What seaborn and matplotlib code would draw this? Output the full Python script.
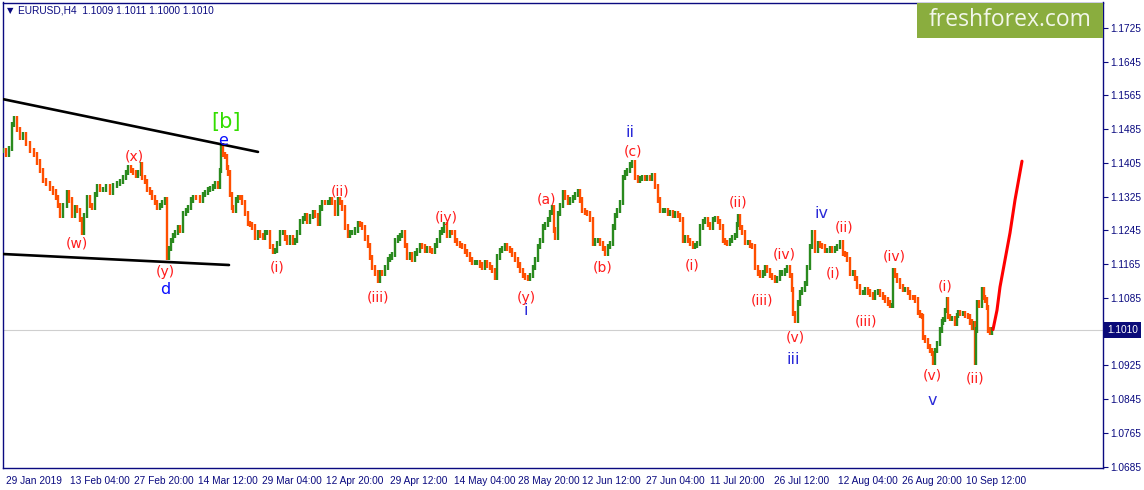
import numpy as np
import pandas as pd
import matplotlib
matplotlib.use("Agg")
import matplotlib.pyplot as plt
import matplotlib.transforms as mtransforms
from matplotlib.patches import Rectangle
import seaborn as sns

# ---------------- data ----------------
bar_index = [0, 3, 6, 9, 11, 14, 17, 20, 23, 27, 31, 34, 37, 40, 43, 47, 50, 53, 55, 57,
             60, 64, 66, 69, 72, 74, 77, 79, 81, 84, 87, 89, 92, 94, 97, 100, 103, 107, 110, 114,
             117, 120, 123, 125, 128, 130, 133, 135, 138, 139, 142, 144, 147, 149, 152, 154, 157, 159, 162, 164,
             166, 168, 170, 172, 175, 177, 180, 183, 185, 188, 190, 193, 197, 200, 202, 205, 207, 210, 212, 215,
             217, 218, 220, 222, 224, 225, 227, 229, 230, 233, 235, 237, 239, 242, 245, 247, 249, 252, 255, 257,
             260, 262, 264, 267, 270, 272, 274, 277, 280, 282, 284, 287, 290, 292, 294, 297, 300, 302, 304, 307,
             310, 312, 315, 317, 319, 322, 325, 327, 329, 332, 335, 337, 339, 342, 345, 347, 349, 352, 355, 357,
             359, 362, 365, 367, 369, 372, 375, 377, 379, 382, 385, 387, 389, 392, 395, 397, 399, 402, 404, 407,
             409, 412, 414, 417, 419, 422, 424, 427, 429, 432, 434, 437, 439, 441, 444, 447, 449, 452, 454, 457,
             459, 462, 464, 467, 469, 472, 474, 477, 479, 482, 484, 487, 489, 492, 494, 497, 499, 502, 504, 507,
             509, 512, 515, 517, 520, 522, 525, 527, 530, 532, 535, 537, 540, 542, 545, 547, 549, 551, 552, 555,
             557, 560, 562, 565, 567, 570, 572, 575, 577, 579, 582, 584, 587, 590, 592, 595, 597, 600, 602, 605,
             607, 610, 612, 614, 617, 620, 622, 624, 627, 629, 632, 635, 637, 639, 642, 644, 647, 649, 652, 655,
             657, 660, 662, 665, 667, 670, 672, 675, 677, 680, 682, 685, 687, 690, 692, 694, 697, 700, 702, 705,
             707, 710, 712, 715, 717, 720, 722, 724, 727, 729, 732, 734, 735, 737, 739, 742, 745, 747, 749, 752,
             755, 757, 760, 762, 764, 767, 769, 772, 774, 777, 779, 782, 784, 787, 789, 790, 792, 795, 797, 799,
             802, 804, 807, 809, 812, 815, 817, 819, 822, 824, 827, 829, 832, 834, 837, 840, 842, 844, 847, 850,
             852, 854, 857, 860, 862, 865, 867, 870, 872, 875, 877, 880, 882, 885, 887, 889, 890, 892, 894, 897,
             900, 902, 905, 907, 910, 912, 915, 917, 919, 920, 922, 925, 927, 929, 930, 932, 934, 937, 939, 940,
             942, 944, 945, 947, 949, 952, 954, 955, 957, 960, 962, 965, 967, 969, 971, 972, 973, 974, 976, 979,
             981, 982, 984, 985, 987, 989]
close = [1.1435, 1.1424, 1.1440, 1.1495, 1.1511, 1.1483, 1.1466, 1.1471, 1.1452, 1.1435, 1.1424, 1.1407, 1.1388, 1.1364, 1.1357, 1.1345, 1.1336, 1.1324, 1.1305, 1.1281,
         1.1305, 1.1334, 1.1317, 1.1281, 1.1300, 1.1293, 1.1270, 1.1241, 1.1281, 1.1322, 1.1305, 1.1300, 1.1329, 1.1348, 1.1341, 1.1341, 1.1348, 1.1334, 1.1352, 1.1357,
         1.1360, 1.1371, 1.1383, 1.1395, 1.1388, 1.1383, 1.1376, 1.1381, 1.1400, 1.1371, 1.1360, 1.1341, 1.1334, 1.1324, 1.1310, 1.1300, 1.1305, 1.1310, 1.1317, 1.1182,
         1.1203, 1.1222, 1.1232, 1.1239, 1.1251, 1.1246, 1.1286, 1.1293, 1.1300, 1.1317, 1.1324, 1.1322, 1.1317, 1.1329, 1.1334, 1.1341, 1.1345, 1.1348, 1.1357, 1.1348,
         1.1388, 1.1445, 1.1424, 1.1419, 1.1393, 1.1381, 1.1329, 1.1300, 1.1293, 1.1317, 1.1324, 1.1322, 1.1312, 1.1286, 1.1262, 1.1258, 1.1253, 1.1229, 1.1239, 1.1234,
         1.1229, 1.1239, 1.1241, 1.1206, 1.1194, 1.1198, 1.1215, 1.1241, 1.1241, 1.1227, 1.1217, 1.1227, 1.1217, 1.1222, 1.1239, 1.1265, 1.1274, 1.1281, 1.1265, 1.1277,
         1.1288, 1.1281, 1.1262, 1.1298, 1.1312, 1.1310, 1.1310, 1.1317, 1.1312, 1.1286, 1.1317, 1.1310, 1.1298, 1.1253, 1.1234, 1.1239, 1.1241, 1.1246, 1.1262, 1.1260,
         1.1251, 1.1227, 1.1210, 1.1180, 1.1158, 1.1144, 1.1127, 1.1146, 1.1144, 1.1158, 1.1175, 1.1182, 1.1187, 1.1222, 1.1227, 1.1234, 1.1239, 1.1210, 1.1182, 1.1187,
         1.1175, 1.1191, 1.1198, 1.1210, 1.1206, 1.1198, 1.1203, 1.1198, 1.1194, 1.1210, 1.1222, 1.1239, 1.1246, 1.1258, 1.1234, 1.1241, 1.1239, 1.1222, 1.1215, 1.1210,
         1.1206, 1.1194, 1.1187, 1.1175, 1.1168, 1.1170, 1.1170, 1.1163, 1.1158, 1.1170, 1.1163, 1.1156, 1.1151, 1.1134, 1.1182, 1.1198, 1.1203, 1.1210, 1.1203, 1.1198,
         1.1187, 1.1175, 1.1163, 1.1151, 1.1139, 1.1134, 1.1132, 1.1139, 1.1158, 1.1175, 1.1206, 1.1222, 1.1253, 1.1258, 1.1270, 1.1288, 1.1300, 1.1246, 1.1229, 1.1286,
         1.1305, 1.1334, 1.1322, 1.1310, 1.1317, 1.1324, 1.1329, 1.1336, 1.1317, 1.1293, 1.1288, 1.1286, 1.1270, 1.1215, 1.1222, 1.1222, 1.1215, 1.1203, 1.1191, 1.1206,
         1.1215, 1.1253, 1.1281, 1.1293, 1.1310, 1.1371, 1.1381, 1.1388, 1.1400, 1.1405, 1.1371, 1.1364, 1.1369, 1.1371, 1.1369, 1.1371, 1.1369, 1.1376, 1.1348, 1.1317,
         1.1293, 1.1293, 1.1293, 1.1286, 1.1288, 1.1281, 1.1286, 1.1281, 1.1270, 1.1222, 1.1227, 1.1222, 1.1213, 1.1206, 1.1210, 1.1215, 1.1253, 1.1265, 1.1270, 1.1258,
         1.1253, 1.1270, 1.1274, 1.1265, 1.1253, 1.1222, 1.1217, 1.1215, 1.1222, 1.1229, 1.1234, 1.1258, 1.1277, 1.1251, 1.1239, 1.1217, 1.1217, 1.1210, 1.1206, 1.1158,
         1.1144, 1.1139, 1.1144, 1.1156, 1.1151, 1.1139, 1.1134, 1.1127, 1.1132, 1.1144, 1.1144, 1.1151, 1.1156, 1.1139, 1.1104, 1.1049, 1.1032, 1.1073, 1.1097, 1.1104,
         1.1120, 1.1158, 1.1206, 1.1239, 1.1198, 1.1215, 1.1210, 1.1206, 1.1198, 1.1198, 1.1203, 1.1198, 1.1203, 1.1206, 1.1217, 1.1191, 1.1187, 1.1175, 1.1144, 1.1146,
         1.1132, 1.1111, 1.1097, 1.1097, 1.1104, 1.1099, 1.1092, 1.1087, 1.1097, 1.1099, 1.1092, 1.1087, 1.1080, 1.1073, 1.1068, 1.1068, 1.1151, 1.1139, 1.1127, 1.1111,
         1.1104, 1.1104, 1.1097, 1.1087, 1.1085, 1.1080, 1.1051, 1.1044, 1.1040, 1.0992, 1.0985, 1.0969, 1.0961, 1.0954, 1.0933, 1.0961, 1.0978, 1.1009, 1.1028, 1.1033,
         1.1056, 1.1080, 1.1040, 1.1037, 1.1037, 1.1025, 1.1044, 1.1051, 1.1049, 1.1049, 1.1044, 1.1040, 1.1028, 1.1016, 1.1025, 1.0933, 1.1009, 1.1073, 1.1068, 1.1104,
         1.1087, 1.1080, 1.1063, 1.1009, 1.1002, 1.1010]

# forecast (red) path
proj_bar = [990, 994, 997, 1002, 1007, 1012, 1019]
proj_price = [1.1010, 1.1056, 1.1111, 1.1175, 1.1239, 1.1317, 1.1409]

# triangle boundary lines
upper_bar = [0, 255]
upper_price = [1.1556, 1.1431]
lower_bar = [0, 226]
lower_price = [1.1189, 1.1163]

# wave labels
red_text = ["(w)", "(x)", "(y)", "(i)", "(ii)", "(iii)", "(iy)", "(y)", "(a)", "(b)", "(c)",
            "(i)", "(ii)", "(iii)", "(iv)", "(v)", "(ii)", "(i)", "(iii)", "(iv)", "(v)", "(i)", "(ii)"]
red_bar = [74, 131, 162, 274, 337, 375, 443, 523, 544, 600, 630,
           689, 735, 759, 781, 792, 841, 830, 863, 891, 929, 942, 972]
red_price = [1.1213, 1.1421, 1.1146, 1.1156, 1.1336, 1.1085, 1.1274, 1.1085, 1.1319, 1.1158, 1.1431,
             1.1161, 1.1310, 1.1080, 1.1189, 1.0992, 1.1253, 1.1142, 1.1030, 1.1184, 1.0900, 1.1111, 1.0895]
blue_text = ["i", "ii", "iii", "iv", "v"]
blue_bar = [523, 627, 790, 818, 929]
blue_price = [1.1056, 1.1478, 1.0940, 1.1284, 1.0841]
minor_text = ["d", "e"]
minor_bar = [162, 220]
minor_price = [1.1106, 1.1457]
major_text = ["[b]"]
major_bar = [223]
major_price = [1.1502]

tick_bars = [0, 64, 128, 192, 256, 320, 384, 448, 512, 576, 640, 704, 768, 832, 896, 960]
tick_labels = ["29 Jan 2019", "13 Feb 04:00", "27 Feb 20:00", "14 Mar 12:00", "29 Mar 04:00",
               "12 Apr 20:00", "29 Apr 12:00", "14 May 04:00", "28 May 20:00", "12 Jun 12:00",
               "27 Jun 04:00", "11 Jul 20:00", "26 Jul 12:00", "12 Aug 04:00", "26 Aug 20:00",
               "10 Sep 12:00"]
price_ticks = [1.0685, 1.0765, 1.0845, 1.0925, 1.1085, 1.1165, 1.1245, 1.1325,
               1.1405, 1.1485, 1.1565, 1.1645, 1.1725]
last_price = 1.1010
header = "EURUSD,H4  1.1009 1.1011 1.1000 1.1010"

# ---------------- drawing ----------------
sns.set_style("white")
plt.rcParams["font.family"] = ["Liberation Sans", "DejaVu Sans"]

W, H = 1144, 490
fig = plt.figure(figsize=(W / 100, H / 100), dpi=100)
left_px, right_px, top_px, bottom_px = 2.5, 1103, 2.5, 468
ax = fig.add_axes([left_px / W, (H - bottom_px) / H,
                   (right_px - left_px) / W, (bottom_px - top_px) / H])
ax.set_xlim(-0.5, 1100)
ax.set_ylim(1.0682, 1.1785)

navy = "#0a0a80"
df = pd.DataFrame({"bar": bar_index, "close": close})
df["open"] = df["close"].shift(1).fillna(df["close"].iloc[0])
up = df["close"] >= df["open"]
wick = 0.0006
lo = np.minimum(df["open"], df["close"]) - wick
hi = np.maximum(df["open"], df["close"]) + wick
colors = np.where(up, "#2a8a1e", "#ff4f00")
ax.vlines(df["bar"], lo, hi, colors=colors, linewidth=1.7, zorder=3)

ax.axhline(last_price, color="#cfcfcf", linewidth=0.8, zorder=1)

sns.lineplot(x=upper_bar, y=upper_price, color="black", linewidth=1.9, ax=ax, zorder=4)
sns.lineplot(x=lower_bar, y=lower_price, color="black", linewidth=1.9, ax=ax, zorder=4)
sns.lineplot(x=proj_bar, y=proj_price, color="#ff0000", linewidth=2.2, ax=ax, zorder=4)

lab_font = ["DejaVu Sans"]
for t, xb, yp in zip(red_text, red_bar, red_price):
    ax.text(xb, yp, t, color="#ff1a1a", fontsize=10, ha="center", va="center", zorder=5,
            family=lab_font)
for t, xb, yp in zip(blue_text, blue_bar, blue_price):
    ax.text(xb, yp, t, color="#2a2ad8", fontsize=11.5, ha="center", va="center", zorder=5,
            family=lab_font)
for t, xb, yp in zip(minor_text, minor_bar, minor_price):
    ax.text(xb, yp, t, color="#0a10ff", fontsize=11.5, ha="center", va="center", zorder=6,
            family=lab_font)
for t, xb, yp in zip(major_text, major_bar, major_price):
    ax.text(xb, yp, t, color="#33dd00", fontsize=15, ha="center", va="center", zorder=5,
            family=lab_font)

# axes styling
for s in ax.spines.values():
    s.set_color(navy)
    s.set_linewidth(1.0)
ax.yaxis.tick_right()
ax.set_yticks(price_ticks)
ax.set_yticklabels([f"{p:.4f}" for p in price_ticks])
ax.set_xticks(tick_bars)
ax.set_xticklabels(tick_labels, ha="left")
ax.tick_params(axis="both", colors=navy, labelcolor=navy, labelsize=7.3,
               length=3.5, width=0.8, direction="out", pad=2)
offset = mtransforms.ScaledTranslation(2 / 72, 0, fig.dpi_scale_trans)
for lab in ax.get_xticklabels():
    lab.set_transform(lab.get_transform() + offset)
ax.set_xlabel("")
ax.set_ylabel("")

# current price tag
trans = mtransforms.blended_transform_factory(ax.transAxes, ax.transData)
ax.text(1.0035, last_price, f"{last_price:.4f}", transform=trans, color="white",
        fontsize=7.3, ha="left", va="center", zorder=6, clip_on=False,
        bbox=dict(boxstyle="square,pad=0.3", facecolor="#0a0a78", edgecolor="none"))

# header
fig.text(7 / W, 1 - 10.5 / H, "\u25bc", fontsize=6, color=navy, ha="left", va="center",
         family=["DejaVu Sans"])
fig.text(18 / W, 1 - 10.5 / H, header, fontsize=7.3, color=navy, ha="left", va="center")

# watermark box
fig.patches.append(Rectangle((917 / W, 1 - 38 / H), (1103 - 917) / W, 35 / H,
                             transform=fig.transFigure, facecolor="#8aad3e",
                             edgecolor="none", zorder=10))
fig.text(1010 / W, 1 - 20.5 / H, "freshforex.com", fontsize=16.5, color="#f2f6ea",
         ha="center", va="center", family=["Open Sans", "DejaVu Sans"], zorder=11)

fig.savefig("out.png", dpi=100, facecolor="white")
